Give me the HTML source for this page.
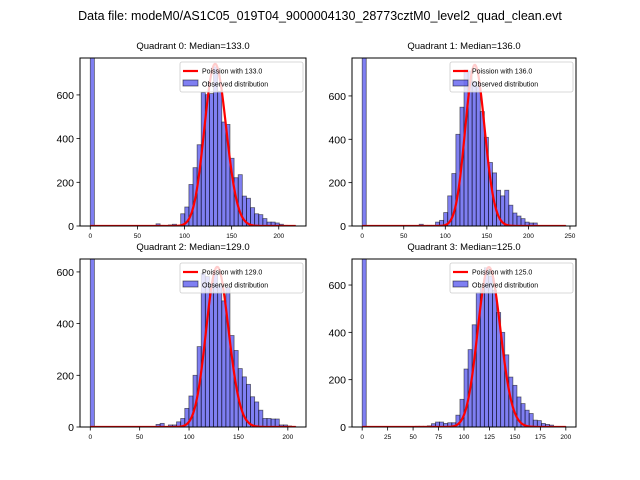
<!DOCTYPE html>
<html><head><meta charset="utf-8"><style>
body{margin:0;background:#fff}
svg{display:block;font-family:"Liberation Sans","DejaVu Sans",sans-serif}
</style></head><body>
<svg id="fig" width="640" height="480">
<text x="320" y="20" text-anchor="middle" font-size="12.5">Data file: modeM0/AS1C05_019T04_9000004130_28773cztM0_level2_quad_clean.evt</text>
</svg>
<script>
const quadNames=["Quadrant 0: Median=133.0","Quadrant 1: Median=136.0","Quadrant 2: Median=129.0","Quadrant 3: Median=125.0"];
const lambdas=[133,136,129,125];
const dataMax=[218,245,208,200];
const yMax=[769,775,650,710];
const curveScale=[21450,21720,17640,18940];
const q0Counts=[5000,0,0,0,0,0,0,0,0,0,0,0,0,0,0,0,10,3,0,5,8,3,56,87,190,267,372,611,601,606,728,617,476,465,310,221,235,137,127,84,56,52,34,18,18,14,8,3,2,1];
const q1Counts=[5000,0,0,0,0,0,0,0,0,0,0,0,0,0,8,3,3,3,18,26,62,139,242,423,548,720,715,667,643,528,409,293,245,165,139,165,96,60,46,34,18,14,14,2,2,2,2,2,2,2];
const q2Counts=[5000,0,0,0,0,0,0,0,0,0,0,0,0,0,0,0,10,14,0,8,8,20,33,72,120,200,311,595,582,553,590,546,488,540,354,296,226,194,165,117,97,65,33,33,31,31,8,8,4,2];
const q3Counts=[5000,0,0,0,0,0,0,0,0,0,0,0,0,3,3,3,5,14,21,21,15,18,18,50,117,245,327,432,568,589,673,638,578,484,400,305,211,176,127,99,71,57,29,27,15,11,8,2,2,2];
const counts=[q0Counts,q1Counts,q2Counts,q3Counts];
const xTicks=[[0,50,100,150,200],[0,50,100,150,200,250],[0,50,100,150,200],[0,25,50,75,100,125,150,175,200]];
const yTicks=[0,200,400,600];

const NS="http://www.w3.org/2000/svg";
const svg=document.getElementById('fig');
function mk(tag,attrs,parent){const e=document.createElementNS(NS,tag);for(const k in attrs)e.setAttribute(k,attrs[k]);(parent||svg).appendChild(e);return e;}
function lgam(n){
  if(n<2)return 0; return n*Math.log(n)-n+0.5*Math.log(2*Math.PI*n)+1/(12*n)-1/(360*n*n*n);}
const boxes=[[80,58,226,168],[352,58,224,168],[80,259,226,168],[352,259,224,168]];
const titleY=[49,49,250,250];
for(let q=0;q<4;q++){
  const [L,T,W,H]=boxes[q];
  const g=mk('g',{});
  
  
  const xmin=-0.05*dataMax[q], xmax=dataMax[q]*1.05;
  const X=v=>L+(v-xmin)/(xmax-xmin)*W;
  const Y=v=>T+H-v/yMax[q]*H;
  const clipId='c'+q;
  const cp=mk('clipPath',{id:clipId},g); mk('rect',{x:L,y:T,width:W,height:H},cp);
  const bars=mk('g',{'clip-path':'url(#'+clipId+')'},g);
  const bw=dataMax[q]/50;
  counts[q].forEach((c,i)=>{
    if(c<=0)return;
    const r=mk('rect',{x:X(i*bw),y:Y(c),width:X(bw)-X(0),height:Y(0)-Y(c),fill:'rgba(0,0,230,0.5)',stroke:'rgba(0,0,0,0.55)','stroke-width':0.8},bars);
    
    
  });
  let d='';
  for(let k=0;k<=dataMax[q];k+=1){
    const p=Math.exp(k*Math.log(lambdas[q])-lambdas[q]-lgam(k));
    d+=(k?'L':'M')+X(k).toFixed(2)+','+Y(p*curveScale[q]).toFixed(2);
  }
  const pl=mk('path',{d:d,fill:'none',stroke:'#ff0000','stroke-width':2.2,'clip-path':'url(#'+clipId+')'},g);
  
  
  const fr=mk('rect',{x:L,y:T,width:W,height:H,fill:'none',stroke:'#000','stroke-width':1},g);
  
  
  xTicks[q].forEach(t=>{
    mk('line',{x1:X(t),x2:X(t),y1:T+H,y2:T+H+3.5,stroke:'#000','stroke-width':0.8},g);
    const tx=mk('text',{x:X(t),y:T+H+12,'font-size':6.5,'text-anchor':'middle'},g);
    tx.textContent=t;
    
    
  });
  yTicks.forEach(t=>{
    if(t>yMax[q])return;
    mk('line',{x1:L,x2:L-3.5,y1:Y(t),y2:Y(t),stroke:'#000','stroke-width':0.8},g);
    const ty=mk('text',{x:L-6,y:Y(t)+4,'font-size':10.5,'text-anchor':'end'},g);
    ty.textContent=t;
    
    
  });
  const tt=mk('text',{x:L+W/2,y:titleY[q],'font-size':9.5,'text-anchor':'middle'},g);
  tt.textContent=quadNames[q];
  
  
  const lg=mk('g',{},g);
  
  
  const lx=L+W-126, ly=T+4;
  mk('rect',{x:lx,y:ly,width:123,height:30,rx:2,fill:'rgba(255,255,255,0.8)',stroke:'#ccc','stroke-width':0.8},lg);
  mk('line',{x1:lx+3,x2:lx+18,y1:ly+9,y2:ly+9,stroke:'#ff0000','stroke-width':2.2},lg);
  const t1=mk('text',{x:lx+22,y:ly+11.5,'font-size':7},lg); t1.textContent='Poission with '+lambdas[q].toFixed(1);
  
  
  mk('rect',{x:lx+3,y:ly+18,width:15,height:6,fill:'rgba(0,0,230,0.5)',stroke:'rgba(0,0,0,0.6)','stroke-width':0.8},lg);
  const t2=mk('text',{x:lx+22,y:ly+24.5,'font-size':7},lg); t2.textContent='Observed distribution';
  
  
}
</script>
</body></html>
